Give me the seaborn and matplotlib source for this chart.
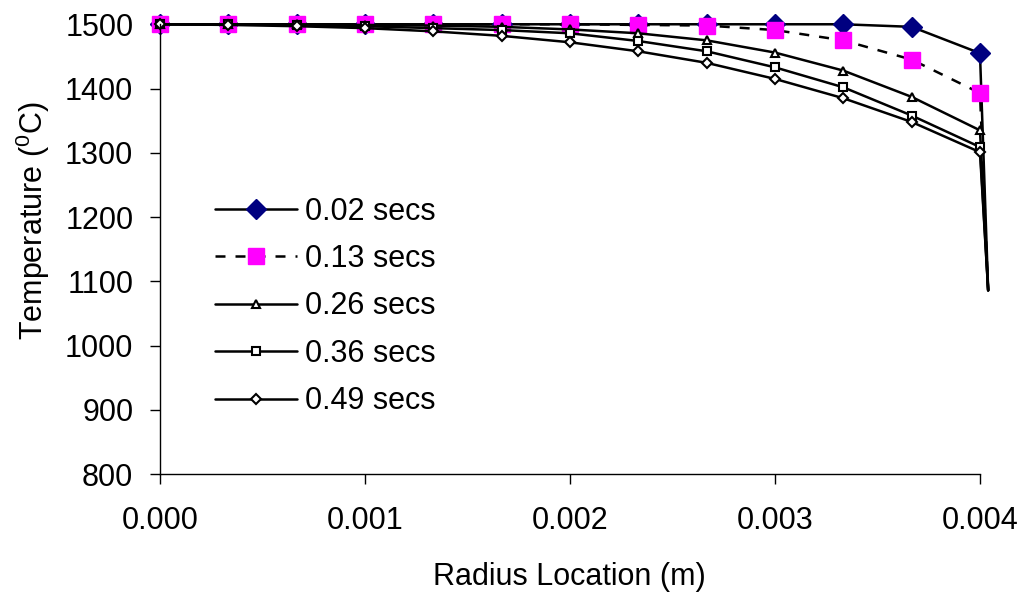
import matplotlib
matplotlib.use("Agg")
import matplotlib.pyplot as plt
import seaborn as sns
import pandas as pd
import numpy as np

radius = [0.0, 0.000333, 0.000667, 0.001, 0.001333, 0.001667, 0.002,
          0.002333, 0.002667, 0.003, 0.003333, 0.003667, 0.004, 0.00404]
labels = ["0.02 secs", "0.13 secs", "0.26 secs", "0.36 secs", "0.49 secs"]
t_002 = [1500, 1500, 1500, 1500, 1500, 1500, 1500, 1500, 1500, 1500, 1500, 1496, 1455, 1086]
t_013 = [1500, 1500, 1500, 1500, 1500, 1500, 1500, 1499, 1498, 1491, 1475, 1445, 1393, 1086]
t_026 = [1500, 1500, 1500, 1499, 1498, 1496, 1492, 1486, 1475, 1456, 1428, 1387, 1335, 1086]
t_036 = [1500, 1500, 1499, 1497, 1494, 1491, 1486, 1474, 1458, 1433, 1402, 1358, 1309, 1086]
t_049 = [1500, 1499, 1497, 1494, 1489, 1482, 1472, 1458, 1440, 1415, 1385, 1348, 1301, 1086]
series = [t_002, t_013, t_026, t_036, t_049]

sns.set_style("ticks")
plt.rcParams['font.family'] = ['Liberation Sans', 'DejaVu Sans']
plt.rcParams['mathtext.fontset'] = 'custom'
plt.rcParams['mathtext.rm'] = 'Liberation Sans'
plt.rcParams['mathtext.it'] = 'Liberation Sans'
plt.rcParams['text.color'] = 'black'
plt.rcParams['axes.labelcolor'] = 'black'

FS = 22
fig = plt.figure(figsize=(10.24, 5.92), dpi=100)
ax = fig.add_axes([0.156, 0.199, 0.801, 0.760])

styles = [
    dict(color="black", ls="-", marker="D", ms=10, mfc="#000080", mec="#000080"),
    dict(color="black", ls=(0, (4, 4)), marker="s", ms=11, mfc="#FF00FF", mec="#FF00FF"),
    dict(color="black", ls="-", marker="^", ms=6, mfc="white", mec="black", mew=1.5),
    dict(color="black", ls="-", marker="s", ms=6, mfc="white", mec="black", mew=1.5),
    dict(color="black", ls="-", marker="D", ms=5, mfc="white", mec="black", mew=1.5),
]

n_mark = len(radius) - 1
for lab, vals, st in zip(labels, series, styles):
    df = pd.DataFrame({"r": radius, "T": vals})
    sns.lineplot(data=df, x="r", y="T", ax=ax, label=lab, color=st["color"],
                 linestyle=st["ls"], marker=st["marker"], markersize=st["ms"],
                 markerfacecolor=st["mfc"], markeredgecolor=st["mec"],
                 markeredgewidth=st.get("mew", 1), markevery=list(range(n_mark)),
                 linewidth=1.8, clip_on=False, sort=False)

ax.set_xlim(0, 0.004)
ax.set_ylim(800, 1500)
ax.set_xticks([0, 0.001, 0.002, 0.003, 0.004])
ax.set_xticklabels(["0.000", "0.001", "0.002", "0.003", "0.004"])
ax.set_yticks(range(800, 1501, 100))
ax.tick_params(labelsize=FS, length=7, width=1, direction="out", colors="black")
ax.tick_params(axis="x", pad=16)
ax.tick_params(axis="y", pad=12)
for s in ["top", "right"]:
    ax.spines[s].set_visible(False)
for s in ["left", "bottom"]:
    ax.spines[s].set_linewidth(1)
    ax.spines[s].set_color("black")
ax.set_xlabel("Radius Location (m)", fontsize=FS)
ax.set_ylabel("Temperature ($^{0}$C)", fontsize=FS)
ax.xaxis.set_label_coords(0.5, -0.196)
ax.yaxis.set_label_coords(-0.131, 0.564)

leg = ax.legend(loc="upper left", bbox_to_anchor=(0.067, 0.617), frameon=False,
                fontsize=FS, handlelength=2.7, handletextpad=0.25, labelspacing=0.57,
                borderaxespad=0, borderpad=0)

fig.savefig("out.png", dpi=100)
